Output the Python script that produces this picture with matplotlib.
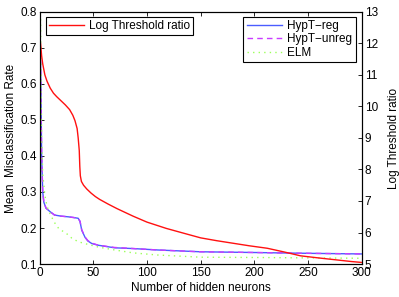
import matplotlib
matplotlib.use("Agg")
import matplotlib.pyplot as plt

plt.rcParams['font.family'] = ['Liberation Sans', 'DejaVu Sans']
plt.rcParams['font.size'] = 8.5

# Log threshold ratio (right axis)
x_red = [1, 2, 3, 5, 7, 10, 13, 16, 20, 24, 28, 31, 33, 35, 36, 37, 37.5, 38, 39, 41, 44, 48,
         52, 56, 64, 72, 87, 100, 118, 135, 150, 165, 180, 195, 212, 228, 243, 258, 274, 290, 300]
y_red = [12.0, 11.6, 11.35, 11.0, 10.8, 10.58, 10.42, 10.31, 10.18, 10.05, 9.9, 9.72, 9.55, 9.3,
         9.0, 8.6, 8.1, 7.8, 7.62, 7.5, 7.38, 7.25, 7.14, 7.05, 6.9, 6.76, 6.52, 6.33, 6.13, 5.97,
         5.83, 5.74, 5.66, 5.58, 5.5, 5.38, 5.26, 5.2, 5.14, 5.08, 5.05]

# HypT-reg (left axis)
x_reg = [1, 2, 3, 4, 6, 10, 14, 20, 27, 32, 36, 37.7, 39.3, 42.4, 45, 48.6, 55, 70, 87, 110,
         150, 200, 243, 300]
y_reg = [0.66, 0.40, 0.30, 0.272, 0.255, 0.245, 0.236, 0.233, 0.231, 0.229, 0.227, 0.218, 0.194,
         0.174, 0.164, 0.157, 0.152, 0.145, 0.143, 0.139, 0.134, 0.132, 0.130, 0.128]

# HypT-unreg (left axis)
x_unreg = [1, 2, 3, 4, 6, 10, 14, 20, 27, 32, 36, 37.7, 39.3, 42.4, 45, 48.6, 55, 70, 87, 110,
           150, 200, 243, 300]
y_unreg = [0.667, 0.41, 0.30, 0.273, 0.256, 0.245, 0.236, 0.233, 0.231, 0.229, 0.227, 0.219, 0.195,
           0.175, 0.165, 0.158, 0.152, 0.146, 0.143, 0.139, 0.134, 0.132, 0.130, 0.128]

# ELM (left axis)
x_elm = [1, 2, 3, 5, 7, 10, 14, 18, 25, 30, 36, 42, 47, 55, 70, 87, 110, 150, 211, 250, 300]
y_elm = [0.78, 0.45, 0.35, 0.29, 0.26, 0.238, 0.215, 0.198, 0.185, 0.172, 0.162, 0.157, 0.153,
         0.147, 0.139, 0.131, 0.125, 0.119, 0.118, 0.117, 0.116]

fig = plt.figure(figsize=(3.99, 2.97), dpi=100)
ax1 = fig.add_axes([0.099, 0.111, 0.808, 0.849])
ax2 = ax1.twinx()

l_reg, = ax1.plot(x_reg, y_reg, color='#4b5cff', lw=1.0, label='HypT\u2212reg')
l_unreg, = ax1.plot(x_unreg, y_unreg, color='#c83cff', lw=1.0, ls=(0, (4, 3)), label='HypT\u2212unreg')
l_elm, = ax1.plot(x_elm, y_elm, color='#9cff5a', lw=1.0, ls=(0, (1, 3)), label='ELM')
l_red, = ax2.plot(x_red, y_red, color='#ff1010', lw=1.0, label='Log Threshold ratio')

ax1.set_xlim(0, 300)
ax1.set_ylim(0.1, 0.8)
ax2.set_ylim(5, 13)
ax1.set_xticks([0, 50, 100, 150, 200, 250, 300])
ax1.set_yticks([0.1, 0.2, 0.3, 0.4, 0.5, 0.6, 0.7, 0.8])
ax1.set_yticklabels(['0.1', '0.2', '0.3', '0.4', '0.5', '0.6', '0.7', '0.8'])
ax2.set_yticks(range(5, 14))

for ax in (ax1, ax2):
    ax.tick_params(direction='in', length=3, width=0.6, pad=2, labelsize=8.5)
    for s in ax.spines.values():
        s.set_linewidth(0.8)
ax1.tick_params(top=True, labeltop=False)

ax1.set_xlabel('Number of hidden neurons', labelpad=2)
ax1.set_ylabel('Mean  Misclassification Rate', labelpad=2)
ax2.set_ylabel('Log Threshold ratio', labelpad=7)

leg1 = ax2.legend(handles=[l_red], loc='upper left', bbox_to_anchor=(0.012, 0.99),
                  fancybox=False, shadow=False, framealpha=1, edgecolor='black',
                  borderpad=0.25, handlelength=3.0, borderaxespad=0.2, handletextpad=0.4)
leg1.get_frame().set_linewidth(0.8)
ax2.add_artist(leg1)
leg2 = ax2.legend(handles=[l_reg, l_unreg, l_elm], loc='upper right', bbox_to_anchor=(0.988, 0.99),
                  fancybox=False, shadow=False, framealpha=1, edgecolor='black',
                  borderpad=0.3, handlelength=3.0, borderaxespad=0.2, handletextpad=0.4,
                  labelspacing=0.1)
leg2.get_frame().set_linewidth(0.8)

fig.savefig('out.png', dpi=100)
